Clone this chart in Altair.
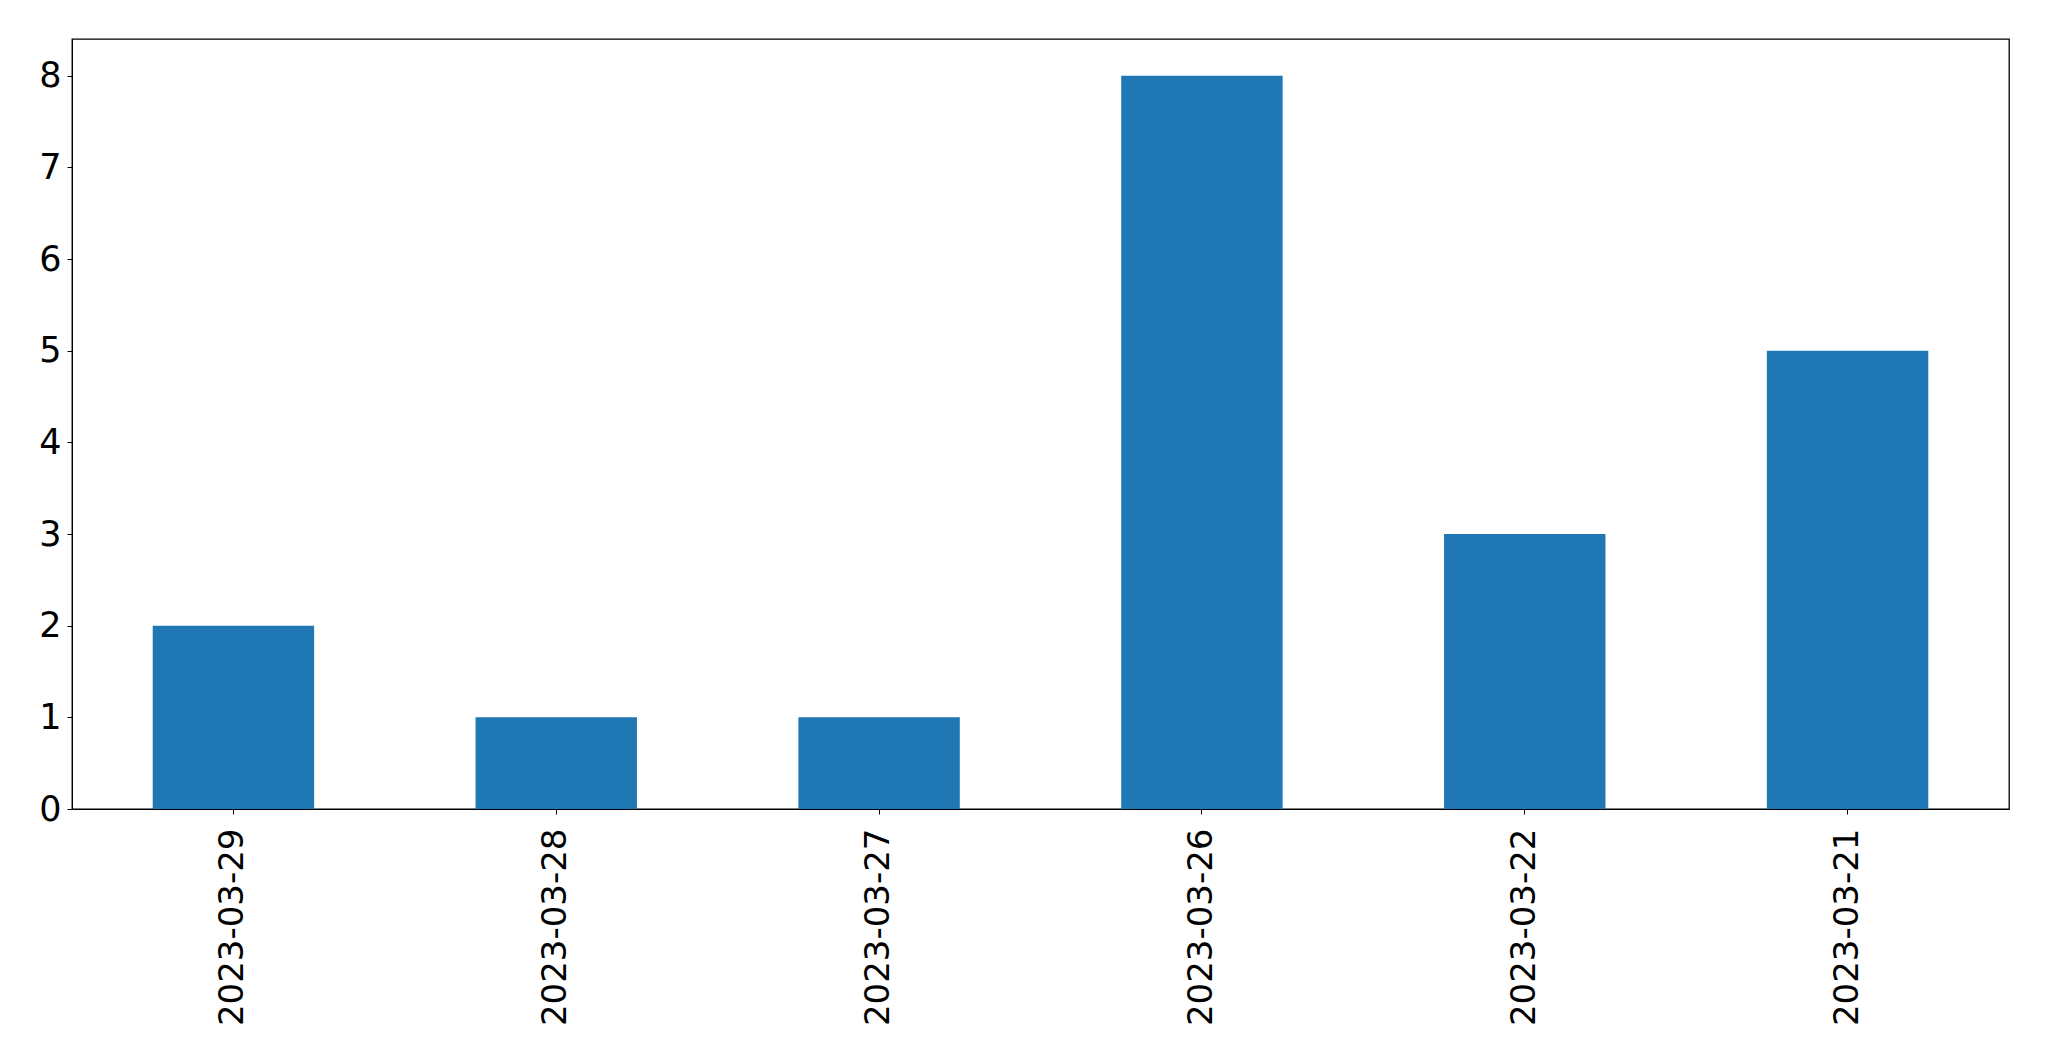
import altair as alt
import pandas as pd

dates = ["2023-03-29", "2023-03-28", "2023-03-27", "2023-03-26", "2023-03-22", "2023-03-21"]
counts = [2, 1, 1, 8, 3, 5]

df = pd.DataFrame({"date": dates, "count": counts})

chart = alt.Chart(df).mark_bar(color="#1f77b4").encode(
    x=alt.X("date:N", sort=None, title=None,
            scale=alt.Scale(paddingInner=0.5, paddingOuter=0.25),
            axis=alt.Axis(labelAngle=-90, labelFontSize=34, labelPadding=14, labelLimit=500,
                          tickSize=5, tickColor="black", domainColor="black",
                          labelColor="black", labelFont="DejaVu Sans", grid=False)),
    y=alt.Y("count:Q", title=None,
            scale=alt.Scale(domain=[0, 8.4], nice=False, zero=True),
            axis=alt.Axis(values=list(range(0, 9)), labelFontSize=35, labelPadding=6,
                          tickSize=5, tickColor="black", domainColor="black",
                          labelColor="black", labelFont="DejaVu Sans", grid=False,
                          labelFlush=False)),
).properties(
    width=1937,
    height=770,
    autosize=alt.AutoSizeParams(type="none"),
    padding={"left": 64, "top": 31, "right": 30, "bottom": 230},
).configure_view(stroke="black", strokeWidth=1.3)

chart.save("out.html", embed_options={"renderer": "svg", "actions": False})
